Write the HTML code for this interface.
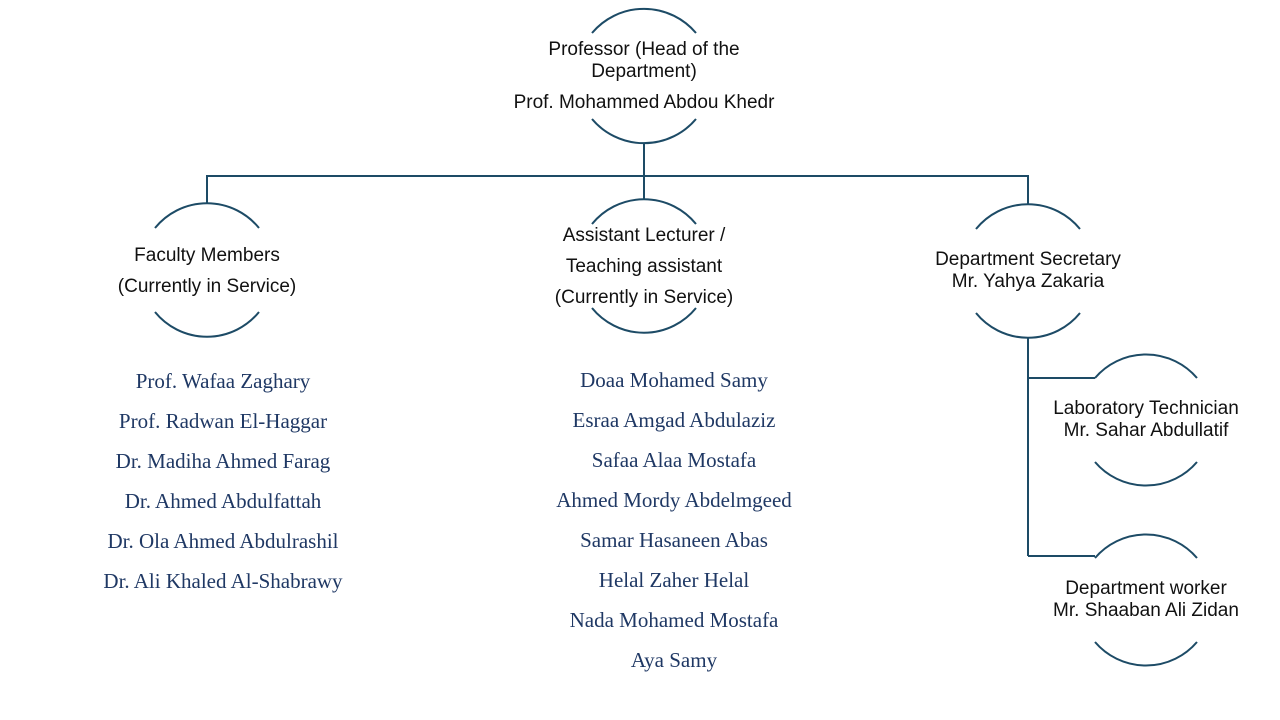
<!DOCTYPE html>
<html><head><meta charset="utf-8"><style>
body{margin:0;width:1280px;height:720px;background:#fff;position:relative;overflow:hidden;font-family:"Liberation Sans",sans-serif}
svg{position:absolute;left:0;top:0}
.t{position:absolute;text-align:center;color:#111;font-size:19px;line-height:22px;white-space:nowrap;transform:translateX(-50%)}
.l{position:absolute;text-align:center;color:#1f3864;font-family:"Liberation Serif",serif;font-size:21px;white-space:nowrap;transform:translateX(-50%)}
</style></head><body>
<svg width="1280" height="720" fill="none" stroke="#1d4b66" stroke-width="2">
<path d="M592 33 A68 68 0 0 1 696 33 M592 119 A68 68 0 0 0 696 119"/>
<path d="M155 228 A67 67 0 0 1 259 228 M155 312 A67 67 0 0 0 259 312"/>
<path d="M592 224 A67 67 0 0 1 696 224 M592 308 A67 67 0 0 0 696 308"/>
<path d="M976 229 A67 67 0 0 1 1080 229 M976 313 A67 67 0 0 0 1080 313"/>
<path d="M1095 378 A67 67 0 0 1 1197 378 M1095 462 A67 67 0 0 0 1197 462"/>
<path d="M1095 558 A67 67 0 0 1 1197 558 M1095 642 A67 67 0 0 0 1197 642"/>
<path d="M644 144 V199 M207 176 H1028 M207 175 V203 M1028 175 V204 M1028 338 V556 M1028 378 H1095 M1028 556 H1095"/>
</svg>
<div class="t" style="left:644px;top:39px">Professor (Head of the<br>Department)</div>
<div class="t" style="left:644px;top:92px">Prof. Mohammed Abdou Khedr</div>
<div class="t" style="left:207px;top:240px;line-height:31px">Faculty Members<br>(Currently in Service)</div>
<div class="t" style="left:644px;top:220px;line-height:31px">Assistant Lecturer /<br>Teaching assistant<br>(Currently in Service)</div>
<div class="t" style="left:1028px;top:249px">Department Secretary<br>Mr. Yahya Zakaria</div>
<div class="t" style="left:1146px;top:398px">Laboratory Technician<br>Mr. Sahar Abdullatif</div>
<div class="t" style="left:1146px;top:578px">Department worker<br>Mr. Shaaban Ali Zidan</div>
<div class="l" style="left:223px;top:361px;line-height:40px">Prof. Wafaa Zaghary<br>Prof. Radwan El-Haggar<br>Dr. Madiha Ahmed Farag<br>Dr. Ahmed Abdulfattah<br>Dr. Ola Ahmed Abdulrashil<br>Dr. Ali Khaled Al-Shabrawy</div>
<div class="l" style="left:674px;top:360px;line-height:40px">Doaa Mohamed Samy<br>Esraa Amgad Abdulaziz<br>Safaa Alaa Mostafa<br>Ahmed Mordy Abdelmgeed<br>Samar Hasaneen Abas<br>Helal Zaher Helal<br>Nada Mohamed Mostafa<br>Aya Samy</div>
</body></html>
